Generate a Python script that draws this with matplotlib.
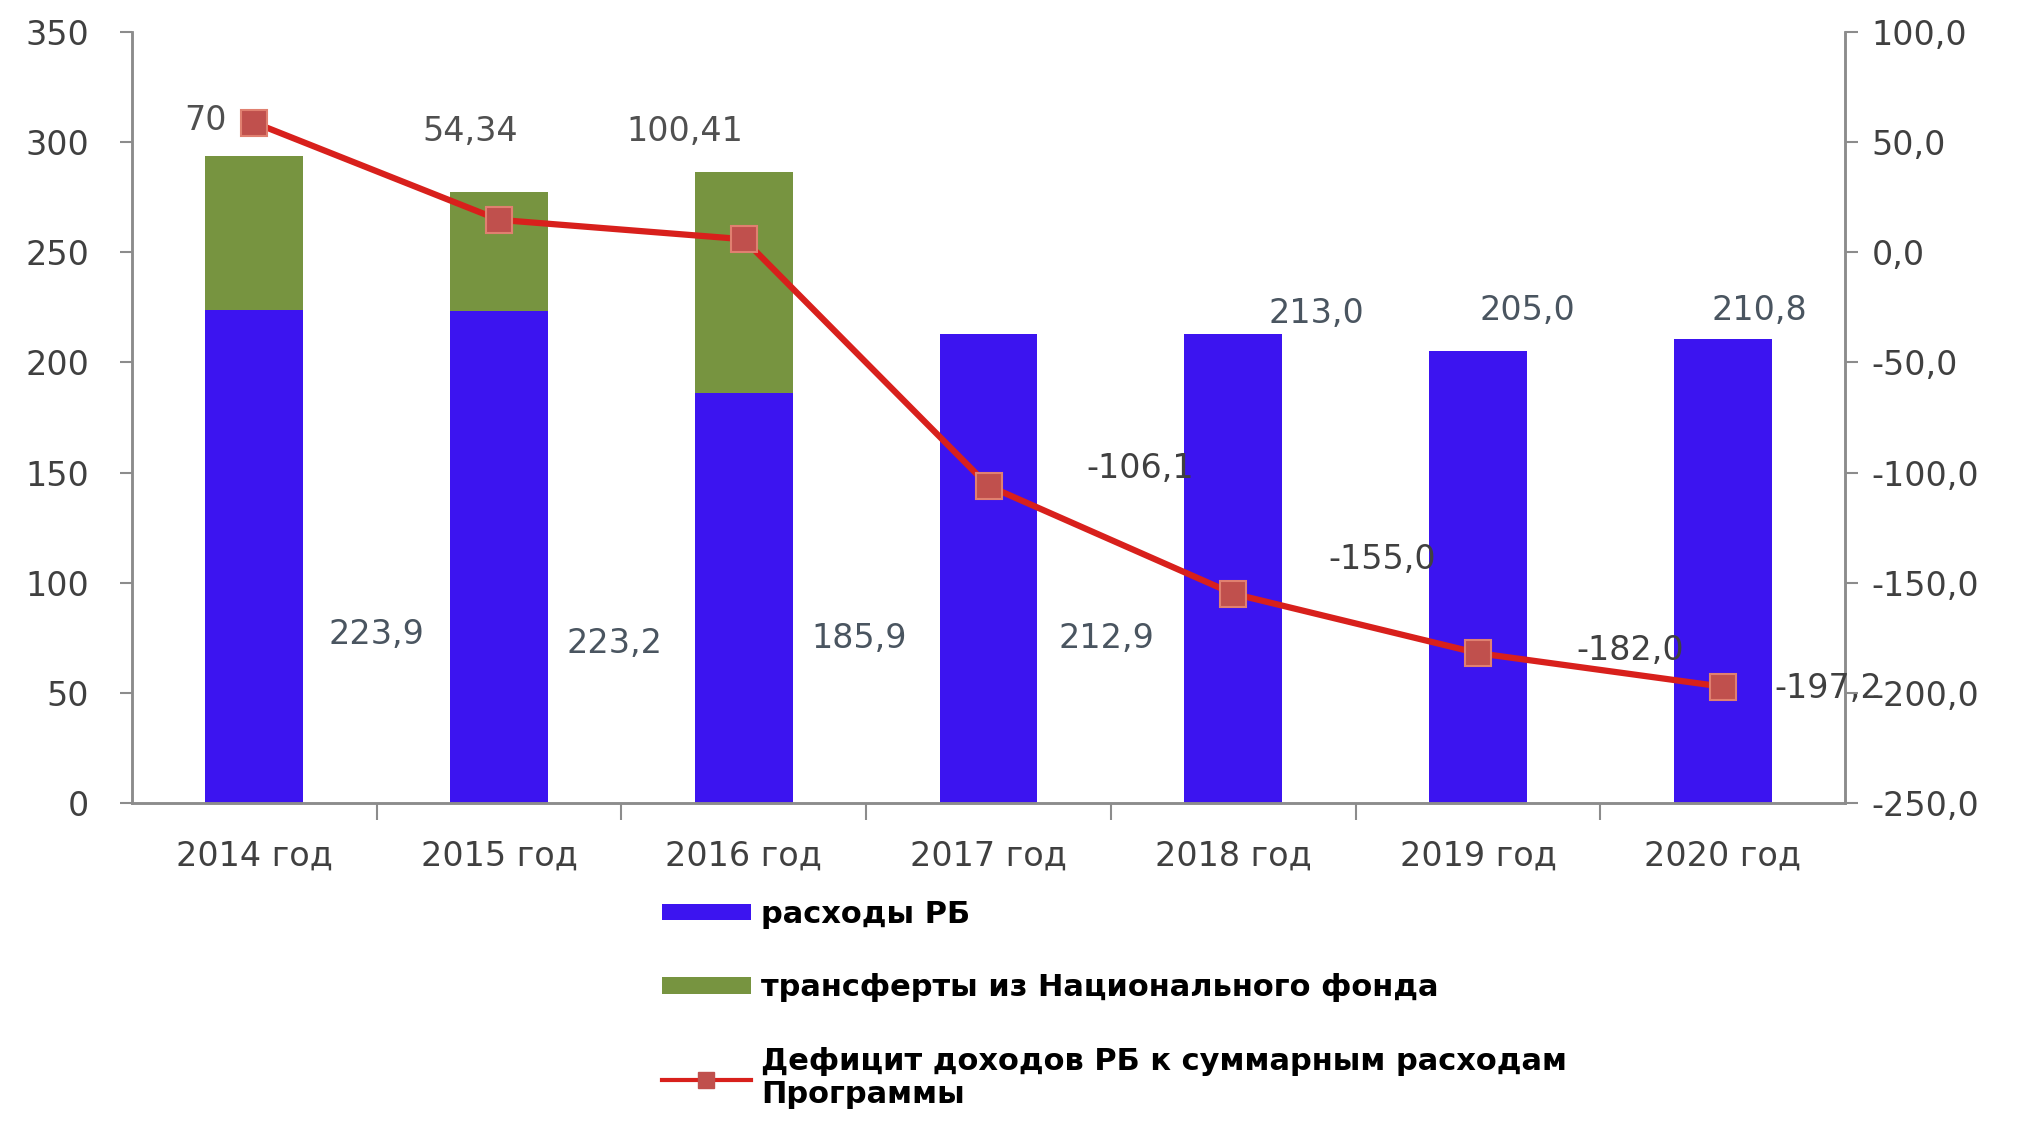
import numpy as np
import matplotlib
matplotlib.use("Agg")
import matplotlib.pyplot as plt
from matplotlib.patches import Patch
from matplotlib.lines import Line2D

# ---------- data ----------
years = ["2014 год", "2015 год", "2016 год", "2017 год", "2018 год", "2019 год", "2020 год"]
rb_spend = [223.9, 223.2, 185.9, 212.9, 213.0, 205.0, 210.8]
nf_transfer = [70.0, 54.34, 100.41, 0, 0, 0, 0]
deficit = [58.8, 14.7, 5.9, -106.1, -155.0, -182.0, -197.2]

rb_labels = ["223,9", "223,2", "185,9", "212,9", "213,0", "205,0", "210,8"]
nf_labels = ["70", "54,34", "100,41"]
def_labels = ["-106,1", "-155,0", "-182,0", "-197,2"]

# ---------- style ----------
BLUE = "#3C14F0"
GREEN = "#779440"
RED = "#D8201C"
MARK = "#C0504D"
TXT = "#404040"
SPINE = "#8C8C8C"

# label placement (x offset in categories, y in axis units)
rb_lab_dx = [0.50, 0.47, 0.47, 0.48, 0.34, 0.20, 0.15]
rb_lab_y = [76.5, 72.4, 74.7, 74.7, 222.4, 223.5, 223.5]
nf_lab_dx = [-0.20, -0.12, -0.24]
nf_lab_y = [310, 304.7, 304.7]
def_lab_dx = [0.62, 0.61, 0.62, 0.43]
def_lab_y = [-98.2, -139.4, -180.6, -198.2]

plt.rcParams["font.family"] = ["DejaVu Sans"]

fig = plt.figure(figsize=(20.18, 11.21), dpi=100)
ax = fig.add_axes([0.0654, 0.2837, 0.8489, 0.6878])
ax2 = ax.twinx()

x = np.arange(len(years))
ax.bar(x, rb_spend, width=0.4, color=BLUE, zorder=2)
ax.bar(x, nf_transfer, width=0.4, bottom=rb_spend, color=GREEN, zorder=2)

ax2.plot(x, deficit, color=RED, lw=4.5, marker="s", markersize=19,
         markerfacecolor=MARK, markeredgecolor="#E08070", markeredgewidth=1.5, zorder=3)

ax.set_xlim(-0.5, len(years) - 0.5)
ax.set_ylim(0, 350)
ax.set_yticks(np.arange(0, 351, 50))
ax2.set_ylim(-250, 100)
ax2.set_yticks(np.arange(-250, 101, 50))
ax2.set_yticklabels([f"{v:.1f}".replace(".", ",") for v in np.arange(-250, 101, 50)])

ax.set_xticks(x)
ax.set_xticklabels(years)
ax.set_xticks(np.arange(0.5, len(years) - 0.5, 1), minor=True)

# data labels
for i, lab in enumerate(rb_labels):
    ax.text(x[i] + rb_lab_dx[i], rb_lab_y[i], lab, ha="center", va="center",
            fontsize=24, color="#4A5560", zorder=4)
for i, lab in enumerate(nf_labels):
    ax.text(x[i] + nf_lab_dx[i], nf_lab_y[i], lab, ha="center", va="center",
            fontsize=24, color="#505050", zorder=4)
for j, lab in enumerate(def_labels):
    i = 3 + j
    ax2.text(x[i] + def_lab_dx[j], def_lab_y[j], lab, ha="center", va="center",
             fontsize=24, color=TXT, zorder=4)

# axes styling
for a in (ax, ax2):
    a.spines["top"].set_visible(False)
    for s in ("left", "right", "bottom"):
        a.spines[s].set_color(SPINE)
        a.spines[s].set_linewidth(1.8)
ax.tick_params(axis="y", labelsize=24, colors=SPINE, labelcolor=TXT, length=9, width=1.5, pad=22)
ax2.tick_params(axis="y", labelsize=24, colors=SPINE, labelcolor=TXT, length=9, width=1.5, pad=10)
ax.tick_params(axis="x", which="major", length=0, labelsize=24, labelcolor=TXT, pad=26)
ax.tick_params(axis="x", which="minor", length=12, width=1.5, colors=SPINE)

# legend
handles = [
    Patch(facecolor=BLUE, edgecolor="none"),
    Patch(facecolor=GREEN, edgecolor="none"),
    Line2D([], [], color=RED, lw=3, marker="s", markersize=12,
           markerfacecolor=MARK, markeredgecolor=MARK),
]
labels = ["расходы РБ", "трансферты из Национального фонда",
          "Дефицит доходов РБ к суммарным расходам\nПрограммы"]
fig.legend(handles, labels, loc="upper left", bbox_to_anchor=(0.328, 0.197),
           frameon=False, prop={"size": 22, "weight": "bold"},
           handlelength=2.9, handleheight=0.45, handletextpad=0.35,
           labelspacing=1.45, borderpad=0, borderaxespad=0)

fig.savefig("out.png", dpi=100, facecolor="white")
